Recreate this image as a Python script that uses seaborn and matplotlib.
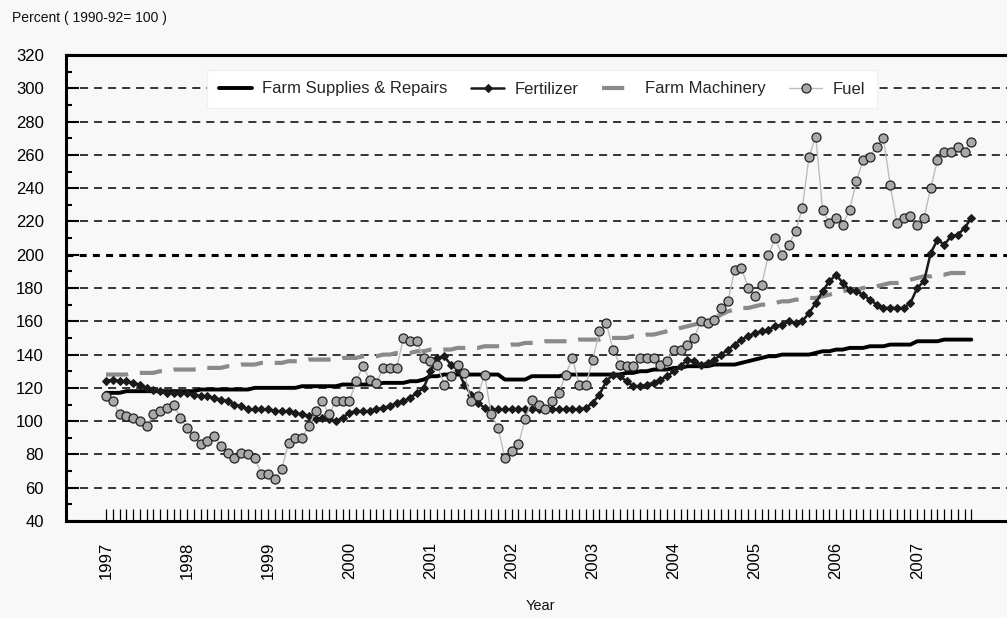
import matplotlib
matplotlib.use("Agg")
import matplotlib.pyplot as plt
import numpy as np
import pandas as pd
import seaborn as sns

# ---------------- data (monthly, Jan 1997 - Sep 2007) ----------------
year_labels = ["1997", "1998", "1999", "2000", "2001", "2002",
               "2003", "2004", "2005", "2006", "2007"]

farm_supplies = [
    117, 117, 117, 118, 118, 118, 118, 118, 118, 118, 118, 118,
    118, 118, 119, 119, 119, 119, 119, 119, 119, 119, 120, 120,
    120, 120, 120, 120, 120, 121, 121, 121, 121, 121, 121, 122,
    122, 122, 122, 122, 122, 123, 123, 123, 123, 124, 124, 125,
    127, 127, 128, 128, 128, 128, 128, 128, 128, 128, 128, 125,
    125, 125, 125, 127, 127, 127, 127, 127, 128, 128, 128, 128,
    128, 128, 128, 128, 128, 129, 129, 130, 130, 131, 131, 131,
    132, 132, 133, 133, 133, 133, 134, 134, 134, 134, 135, 136,
    137, 138, 139, 139, 140, 140, 140, 140, 140, 141, 142, 142,
    143, 143, 144, 144, 144, 145, 145, 145, 146, 146, 146, 146,
    148, 148, 148, 148, 149, 149, 149, 149, 149,
]

fertilizer = [
    124, 125, 124, 124, 123, 122, 120, 119, 118, 117, 117, 117,
    117, 116, 115, 115, 114, 113, 112, 110, 109, 107, 107, 107,
    107, 106, 106, 106, 105, 104, 103, 101, 102, 101, 100, 102,
    105, 106, 106, 106, 107, 108, 109, 111, 112, 114, 117, 120,
    130, 138, 139, 134, 131, 122, 116, 111, 108, 107, 107, 107,
    107, 107, 107, 107, 107, 107, 107, 107, 107, 107, 107, 108,
    111, 116, 124, 128, 127, 124, 121, 121, 122, 123, 125, 127,
    130, 133, 137, 136, 134, 135, 137, 140, 143, 146, 149, 151,
    153, 154, 155, 157, 158, 160, 159, 160, 165, 171, 178, 184,
    188, 183, 179, 178, 176, 173, 170, 168, 168, 168, 168, 171,
    180, 184, 201, 209, 206, 211, 212, 216, 222,
]

farm_machinery = [
    128, 128, 128, 128, 129, 129, 129, 129, 130, 130, 131, 131,
    131, 131, 132, 132, 132, 132, 133, 133, 134, 134, 134, 135,
    135, 135, 135, 136, 136, 136, 137, 137, 137, 137, 137, 138,
    138, 138, 139, 139, 139, 140, 140, 141, 141, 141, 142, 142,
    143, 143, 143, 143, 144, 144, 144, 144, 145, 145, 145, 145,
    146, 146, 147, 147, 147, 148, 148, 148, 148, 148, 149, 149,
    149, 149, 150, 150, 150, 150, 151, 151, 152, 152, 153, 154,
    155, 156, 157, 158, 159, 160, 162, 164, 166, 167, 168, 168,
    169, 170, 170, 171, 172, 172, 173, 173, 174, 174, 175, 176,
    177, 178, 179, 179, 180, 180, 181, 182, 183, 183, 184, 185,
    186, 187, 187, 188, 188, 189, 189, 189, 189,
]

fuel = [
    115, 112, 104, 103, 102, 100, 97, 104, 106, 108, 110, 102,
    96, 91, 86, 88, 91, 85, 81, 78, 81, 80, 78, 68,
    68, 65, 71, 87, 90, 90, 97, 106, 112, 104, 112, 112,
    112, 124, 133, 125, 123, 132, 132, 132, 150, 148, 148, 138,
    136, 134, 122, 127, 134, 129, 112, 115, 128, 104, 96, 78,
    82, 86, 101, 113, 110, 107, 112, 117, 128, 138, 122, 122,
    137, 154, 159, 143, 134, 133, 133, 138, 138, 138, 134, 136,
    143, 143, 146, 150, 160, 159, 161, 168, 172, 191, 192, 180,
    175, 182, 200, 210, 200, 206, 214, 228, 259, 271, 227, 219,
    222, 218, 227, 244, 257, 259, 265, 270, 242, 219, 222, 223,
    218, 222, 240, 257, 262, 262, 265, 262, 268,
]

month = list(range(len(fuel)))
df = pd.DataFrame({
    "month": month,
    "Farm Supplies & Repairs": farm_supplies,
    "Fertilizer": fertilizer,
    "Farm Machinery": farm_machinery,
    "Fuel": fuel,
})

# ---------------- style ----------------
sns.set_theme(style="white")
plt.rcParams["font.family"] = ["Liberation Sans", "DejaVu Sans"]
plt.rcParams["lines.scale_dashes"] = False
bg = "#f8f8f8"

fig = plt.figure(figsize=(10.07, 6.18), dpi=100, facecolor=bg)
W, H = 1007, 618
ax = fig.add_axes([66 / W, (H - 521) / H, (W - 66) / W, (521 - 55) / H])
ax.set_facecolor(bg)

# grid lines (dashed), bold one at 200
for v in range(60, 320, 20):
    if v == 200:
        ax.axhline(v, color="black", lw=2.2, dashes=(5, 4.5), zorder=1)
    else:
        ax.axhline(v, color="black", lw=1.1, dashes=(5.8, 4.3), zorder=1)

# series
sns.lineplot(data=df, x="month", y="Farm Machinery", ax=ax, color="#8a8a8a",
             lw=3.0, label="Farm Machinery", errorbar=None, zorder=3)
ax.lines[-1].set_dashes([16, 8.5])
sns.lineplot(data=df, x="month", y="Farm Supplies & Repairs", ax=ax,
             color="black", lw=2.8, label="Farm Supplies & Repairs",
             errorbar=None, zorder=4)
sns.lineplot(data=df, x="month", y="Fertilizer", ax=ax, color="#1a1a1a",
             lw=1.8, marker="D", markersize=3.8, markeredgecolor="#1a1a1a",
             markerfacecolor="#1a1a1a", label="Fertilizer", errorbar=None,
             zorder=5)
sns.lineplot(data=df, x="month", y="Fuel", ax=ax, color="#bdbdbd", lw=1.0,
             marker="o", markersize=6.5, markerfacecolor="#a9a9a9",
             markeredgecolor="#222222", markeredgewidth=0.9, label="Fuel",
             errorbar=None, zorder=6)

# axes limits
ax.set_xlim((66 - 106) / 6.76, (W - 106) / 6.76)
ax.set_ylim(40, 320)

# y ticks
ax.set_yticks(range(40, 321, 20))
ax.set_yticks(range(50, 320, 20), minor=True)
ax.tick_params(axis="y", which="both", left=True, right=False)
ax.tick_params(axis="y", which="major", direction="in", length=9.4,
               width=1.5, pad=16, labelsize=12, colors="black")
ax.tick_params(axis="y", which="minor", direction="in", length=4.3,
               width=1.5, color="black")

# x ticks
ax.set_xticks(list(range(0, 121, 12)))
ax.set_xticklabels(year_labels, rotation=90)
ax.set_xticks(month, minor=True)
ax.tick_params(axis="x", which="both", bottom=True, top=False,
               direction="in", length=8.6, width=0.9, color="black")
ax.tick_params(axis="x", which="major", pad=15, labelsize=12,
               labelcolor="black")

# spines
for s in ["left", "top", "bottom"]:
    ax.spines[s].set_visible(True)
    ax.spines[s].set_color("black")
    ax.spines[s].set_linewidth(2.2)
ax.spines["right"].set_visible(False)

ax.set_ylabel("")
ax.set_xlabel("")
fig.text(540 / W, 1 - 606 / H, "Year", ha="center", va="center",
         fontsize=10.5, color="#111111")

# legend
handles, labels = ax.get_legend_handles_labels()
order = ["Farm Supplies & Repairs", "Fertilizer", "Farm Machinery", "Fuel"]
hmap = dict(zip(labels, handles))
leg = ax.legend([hmap[k] for k in order], order, ncol=4, loc="center",
                bbox_to_anchor=((542 - 66) / (W - 66), (521 - 89) / (521 - 55)),
                frameon=True, facecolor="white", edgecolor="#f0f0f0",
                framealpha=1, fancybox=False, fontsize=12, handlelength=2.0,
                handletextpad=0.6, columnspacing=1.4, borderpad=0.7)
leg.set_zorder(10)

fig.text(12 / W, 1 - 18 / H, "Percent ( 1990-92= 100 )", ha="left",
         va="center", fontsize=10, color="#111111")

fig.savefig("out.png", dpi=100, facecolor=bg)
